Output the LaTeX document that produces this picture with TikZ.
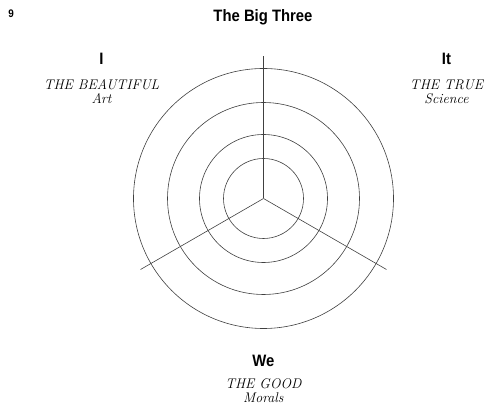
\documentclass[tikz,border=0pt]{standalone}
\usepackage{fontspec}
\newfontfamily\headfont{Liberation Sans}[FakeStretch=0.9]
\usetikzlibrary{positioning}

\begin{document}
\begin{tikzpicture}[x=1pt, y=1pt, node distance=15pt,
  head/.style={font=\headfont\bfseries\fontsize{16.5}{18}\selectfont, inner sep=0pt, anchor=base},
  sub/.style={font=\itshape\fontsize{14}{14.5}\selectfont, align=center, inner sep=0pt},
  ring/.style={draw=black!75, line width=0.6pt}]
  \useasboundingbox (0,0) rectangle (487,409);

  \node[font=\headfont\bfseries\fontsize{11}{12}\selectfont, inner sep=0pt, anchor=base west] (page) at (8.3,391.7) {9};
  \node[head] (title) at (263,387.3) {The Big Three};

  % rings and spokes
  \coordinate (hub) at (263.5,210.5);
  \foreach \r in {40,64,96,130}
    \draw[ring] (hub) circle[radius=\r];
  \foreach \a/\n in {90/top,210/left,330/right} {
    \path (hub) ++(\a:142) coordinate (tip-\n);
    \draw[ring] (hub) -- (tip-\n);
  }

  % the three domains
  \node[head] (hI) at (101.5,344) {I};
  \node[sub, below=14pt of hI] (sI) {THE BEAUTIFUL\\Art};
  \node[head] (hIt) at (446.5,344) {It};
  \node[sub, below=14pt of hIt] (sIt) {THE TRUE\\Science};
  \node[head] (hWe) at (263.3,42.3) {We};
  \node[sub, below=11pt of hWe] (sWe) {THE GOOD\\Morals};
\end{tikzpicture}
\end{document}
